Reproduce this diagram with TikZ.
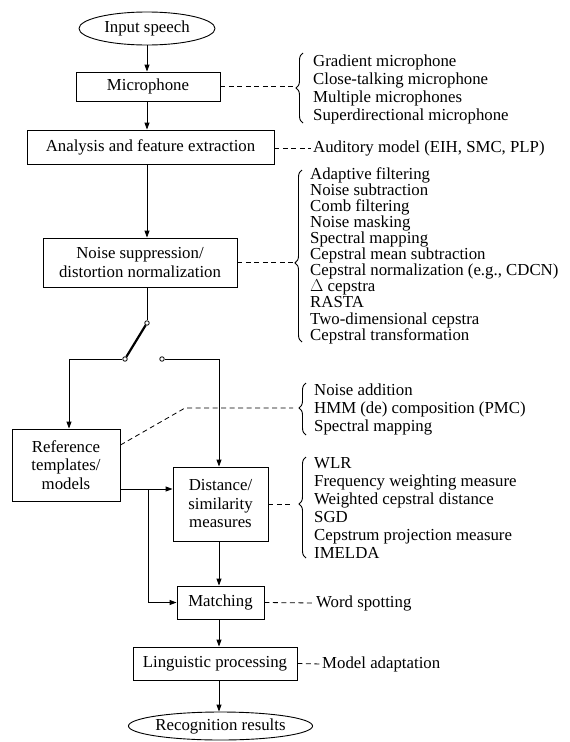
\documentclass[tikz,border=0pt]{standalone}
\usepackage{fontspec}
\setmainfont{Liberation Serif}
\usetikzlibrary{arrows.meta,decorations.pathreplacing,shapes.geometric,calc}
\begin{document}
\begin{tikzpicture}[x=1pt,y=-1pt,
  every node/.style={font=\fontsize{16.8}{18.5}\selectfont, inner sep=0pt},
  box/.style={draw, line width=0.9pt, align=center},
  oval/.style={draw, ellipse, line width=0.9pt},
  arr/.style={line width=0.9pt, -{Triangle[length=7pt,width=5pt]}},
  ln/.style={line width=0.9pt},
  dsh/.style={line width=0.8pt, dash pattern=on 5pt off 3.5pt},
  brc/.style={line width=0.9pt, decorate, decoration={brace, amplitude=7pt, aspect=#1}},
  lst/.style={anchor=west, align=left},
  contact/.style={circle, draw, fill=white, line width=0.8pt, minimum size=4.5pt}
]
\useasboundingbox (0,0) rectangle (570,742);

% main column
\node[oval, minimum width=136pt, minimum height=33pt] (in) at (147,28.5) {Input speech};
\node[box, minimum width=144pt, minimum height=29pt] (mic) at (148,86.5) {Microphone};
\node[box, minimum width=247pt, minimum height=34pt] (ana) at (150.5,147) {Analysis and feature extraction};
\node[box, minimum width=194pt, minimum height=49pt] (nse) at (140,262.5) {Noise suppression/\\distortion normalization};

\draw[arr] (in.south) -- (in.south |- mic.north);
\draw[arr] (in.south |- mic.south) -- (in.south |- ana.north);
\draw[arr] (in.south |- ana.south) -- (in.south |- nse.north);

% switch
\node[contact] (pv) at (147,323) {};
\node[contact] (cL) at (125,359) {};
\node[contact] (cR) at (162,359) {};
\draw[ln] (nse.south -| pv) -- (pv);
\draw[line width=2.2pt] (pv) -- (cL);

% lower boxes
\node[box, minimum width=108pt, minimum height=72pt] (ref) at (66,465) {Reference\\templates/\\models};
\node[box, minimum width=95pt, minimum height=74pt] (dist) at (220.5,504) {Distance/\\similarity\\measures};
\node[box, minimum width=87pt, minimum height=33pt] (mat) at (220.5,602.5) {Matching};
\node[box, minimum width=164pt, minimum height=33pt] (lin) at (215,663.5) {Linguistic processing};
\node[oval, minimum width=175pt, minimum height=28pt] (out) at (220.5,726) {Recognition results};

\coordinate (lc) at (69,0);
\coordinate (rc) at (219,0);
\coordinate (r1) at (0,489);
\coordinate (br) at (148,489);

\draw[arr] (cL) -| (ref.north -| lc);
\draw[arr] (cR) -| (dist.north -| rc);
\draw[arr] (ref.east |- r1) -- (dist.west |- r1);
\draw[arr] (br) |- (mat.west);
\draw[arr] (dist.south -| rc) -- (mat.north -| rc);
\draw[arr] (mat.south -| rc) -- (lin.north -| rc);
\draw[arr] (lin.south -| rc) -- (out.north -| rc);

% side lists
\node[lst, font=\fontsize{16.8}{18.3}\selectfont] (ml) at (313,89.5) {Gradient microphone\\Close-talking microphone\\Multiple microphones\\Superdirectional microphone};
\draw[brc=0.5] (303,123) -- (303,53);
\draw[dsh] (mic.east) -- (293,86.5);

\node[lst] (aud) at (313,148) {Auditory model (EIH, SMC, PLP)};
\draw[dsh, shorten >=2pt] (ana.east |- aud.west) -- (aud.west);

\node[lst, font=\fontsize{16.8}{16.1}\selectfont] (nl) at (310,255.5) {Adaptive filtering\\Noise subtraction\\Comb filtering\\Noise masking\\Spectral mapping\\Cepstral mean subtraction\\Cepstral normalization (e.g., CDCN)\\$\Delta$ cepstra\\RASTA\\Two-dimensional cepstra\\Cepstral transformation};
\draw[brc=0.46] (302,342) -- (302,170);
\draw[dsh] (nse.east) -- (293,262.5);

\node[lst, font=\fontsize{16.8}{18}\selectfont] (rl) at (314,409) {Noise addition\\HMM (de) composition (PMC)\\Spectral mapping};
\draw[brc=0.52] (306,435) -- (306,383);
\coordinate (r2) at (0,445);
\draw[dsh] (ref.east |- r2) -- (185,408) -- (293,408);

\node[lst, font=\fontsize{16.8}{18}\selectfont] (dl) at (314,508) {WLR\\Frequency weighting measure\\Weighted cepstral distance\\SGD\\Cepstrum projection measure\\IMELDA};
\draw[brc=0.535] (306,558) -- (306,457);
\draw[dsh] (dist.east) -- (293,504);

\node[lst] (ws) at (316,603) {Word spotting};
\draw[dsh, shorten >=3pt] (mat.east) -- (ws.west);

\node[lst] (ma) at (322,664) {Model adaptation};
\draw[dsh, shorten >=2pt] (lin.east) -- (ma.west);
\end{tikzpicture}
\end{document}
